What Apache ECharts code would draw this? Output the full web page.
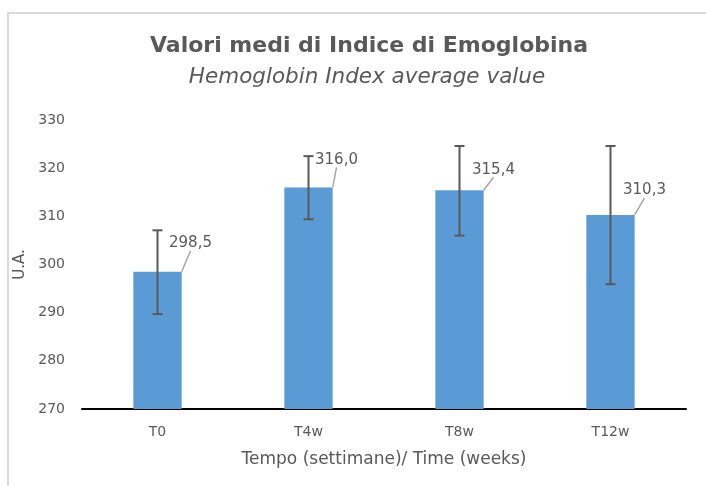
<!DOCTYPE html>
<html>
<head>
<meta charset="utf-8">
<script src="https://cdn.jsdelivr.net/npm/echarts@6/dist/echarts.min.js"></script>
<style>
html,body{margin:0;padding:0;background:#fff;}
#chart{width:706px;height:486px;}
</style>
</head>
<body>
<div id="chart"></div>
<script>
var categories = ['T0', 'T4w', 'T8w', 'T12w'];
var meanValues = [298.5, 316.0, 315.4, 310.3];
var errLow = [289.7, 309.4, 306.0, 295.9];
var errHigh = [307.1, 322.5, 324.6, 324.6];
var yTicks = [270, 280, 290, 300, 310, 320, 330];

var labelShift = [[33, -16], [28, -15], [34, -8], [34, -12]];

var chart = echarts.init(document.getElementById('chart'));
var textColor = '#595959';
var fontName = 'DejaVu Sans';

var errData = [];
categories.forEach(function (c, i) {
	errData.push([i, errLow[i], errHigh[i]]);
});

var option = {
	backgroundColor: '#fff',
	animation: false,
	title: [
		{
			text: 'Valori medi di Indice di Emoglobina',
			left: 364, top: 30, textAlign: 'center',
			textStyle: {fontFamily: fontName, fontSize: 22, fontWeight: 'bold', color: textColor}
		},
		{
			text: 'Hemoglobin Index average value',
			left: 362, top: 61, textAlign: 'center',
			textStyle: {fontFamily: fontName, fontSize: 21.5, fontStyle: 'italic', fontWeight: 'normal', color: textColor}
		}
	],
	graphic: [{
		type: 'rect',
		shape: {x: 8, y: 13, width: 720, height: 500},
		style: {fill: 'none', stroke: '#d9d9d9', lineWidth: 2},
		silent: true
	}],
	grid: {left: 82, right: 20, top: 120, bottom: 77},
	xAxis: {
		type: 'category',
		data: categories,
		name: 'Tempo (settimane)/ Time (weeks)',
		nameLocation: 'middle',
		nameGap: 42,
		nameTextStyle: {fontFamily: fontName, fontSize: 17, color: textColor},
		axisLine: {lineStyle: {color: '#000', width: 2}},
		axisTick: {show: false},
		axisLabel: {fontFamily: fontName, fontSize: 14, color: textColor, margin: 16}
	},
	yAxis: {
		type: 'value',
		min: yTicks[0],
		max: yTicks[yTicks.length - 1],
		interval: 10,
		name: 'U.A.',
		nameLocation: 'middle',
		nameGap: 50,
		nameTextStyle: {fontFamily: fontName, fontSize: 15, color: textColor},
		axisLine: {show: false},
		axisTick: {show: false},
		splitLine: {show: false},
		axisLabel: {fontFamily: fontName, fontSize: 14, color: textColor, margin: 17}
	},
	series: [
		{
			type: 'bar',
			data: meanValues,
			barWidth: '32%',
			itemStyle: {color: '#5b9bd5'},
			label: {
				show: true,
				position: 'top',
				fontFamily: fontName,
				fontSize: 15,
				color: textColor,
				formatter: function (p) {
					return p.value.toFixed(1).replace('.', ',');
				}
			},
			labelLine: {show: true, lineStyle: {color: '#a6a6a6', width: 1.5}},
			labelLayout: function (p) {
				var s = labelShift[p.dataIndex];
				return {dx: s[0], dy: s[1]};
			},
			z: 2
		},
		{
			type: 'custom',
			data: errData,
			z: 5,
			renderItem: function (params, api) {
				var lo = api.coord([api.value(0), api.value(1)]);
				var hi = api.coord([api.value(0), api.value(2)]);
				var cap = 5;
				var st = {stroke: '#595959', lineWidth: 2};
				return {
					type: 'group',
					children: [
						{type: 'line', shape: {x1: lo[0], y1: lo[1], x2: hi[0], y2: hi[1]}, style: st},
						{type: 'line', shape: {x1: lo[0] - cap, y1: lo[1], x2: lo[0] + cap, y2: lo[1]}, style: st},
						{type: 'line', shape: {x1: hi[0] - cap, y1: hi[1], x2: hi[0] + cap, y2: hi[1]}, style: st}
					]
				};
			}
		}
	]
};
chart.setOption(option);
</script>
</body>
</html>
